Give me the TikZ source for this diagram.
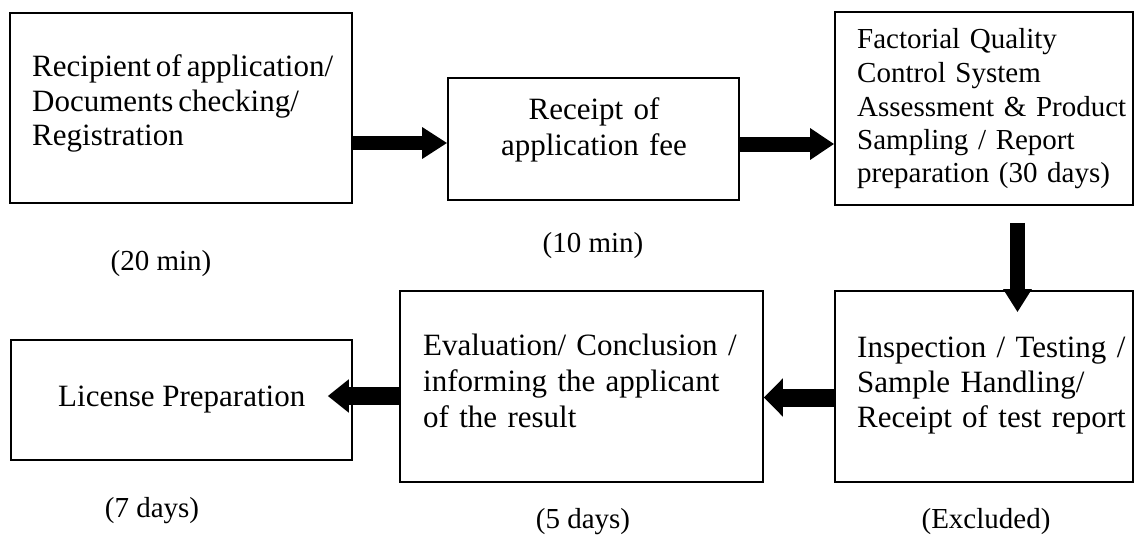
\documentclass[tikz,border=0pt]{standalone}
\usepackage{fontspec}
\setmainfont{Liberation Serif}
\usetikzlibrary{arrows.meta,calc}
\begin{document}
\begin{tikzpicture}[x=1pt,y=-1pt,
  box/.style={draw=black, line width=1.6pt, inner sep=0pt, rectangle},
  txt/.style={inner sep=0pt, font=\fontsize{31}{34.5}\selectfont},
  lbl/.style={inner sep=0pt, font=\fontsize{29}{33}\selectfont, anchor=base}
]
\useasboundingbox[fill=white] (0,0) rectangle (1138,535);

% boxes
\node[box, minimum width=342pt, minimum height=190pt] (b1) at (181,108) {};
\node[box, minimum width=291pt, minimum height=122pt] (b2) at (593.5,139) {};
\node[box, minimum width=298pt, minimum height=193pt] (b3) at (984,108.5) {};
\node[box, minimum width=298pt, minimum height=191pt] (b4) at (984,386.5) {};
\node[box, minimum width=363pt, minimum height=191pt] (b5) at (581.5,386.5) {};
\node[box, minimum width=341pt, minimum height=120pt] (b6) at (181.5,400) {};

% box texts
\node[txt, text width=320pt, align=left, anchor=base west] (t1) at (32,77)
  {\spaceskip=0.16em Recipient of application/\\Documents checking/\\Registration};
\node[txt, font=\fontsize{31}{36}\selectfont, text width=290pt, align=center, anchor=base] (t2) at (594,119)
  {Receipt of\\application fee};
\node[txt, font=\fontsize{29}{33.5}\selectfont, text width=275pt, align=left, anchor=base west] (t3) at (857,49)
  {Factorial Quality\\Control System\\Assessment \& Product\\Sampling / Report\\preparation (30 days)};
\node[txt, font=\fontsize{31}{35}\selectfont, text width=275pt, align=left, anchor=base west] (t4) at (857,357)
  {Inspection / Testing /\\Sample Handling/\\Receipt of test report};
\node[txt, font=\fontsize{31}{36}\selectfont, text width=335pt, align=left, anchor=base west] (t5) at (423,355)
  {Evaluation/ Conclusion /\\informing the applicant\\of the result};
\node[txt, anchor=base west] (t6) at (58,406) {License Preparation};

% labels
\node[lbl] (l1) at (161,270) {(20 min)};
\node[lbl] (l2) at (593,252) {(10 min)};
\node[lbl] (l3) at (152,517) {(7 days)};
\node[lbl] (l4) at (583,528) {(5 days)};
\node[lbl] (l5) at (986,528) {(Excluded)};

% arrows
\draw[line width=14pt, -{Triangle[length=25pt,width=30pt]}]
  (b1.east |- 0,143) -- (b2.west |- 0,143);
\draw[line width=15pt, -{Triangle[length=24pt,width=30pt]}]
  (b2.east |- 0,144) -- (b3.west |- 0,144);
\draw[line width=15pt, -{Triangle[length=23pt,width=27pt]}]
  ($(b3.south -| 1017.5,0)+(0,17)$) -- ($(b4.north -| 1017.5,0)+(0,22)$);
\draw[line width=18pt, -{Triangle[length=19pt,width=37pt]}]
  (b4.west |- 0,397.5) -- (b5.east |- 0,397.5);
\draw[line width=18pt, -{Triangle[length=21pt,width=32pt]}]
  (b5.west |- 0,396) -- ($(b6.east |- 0,396)+(-25,0)$);
\end{tikzpicture}
\end{document}
